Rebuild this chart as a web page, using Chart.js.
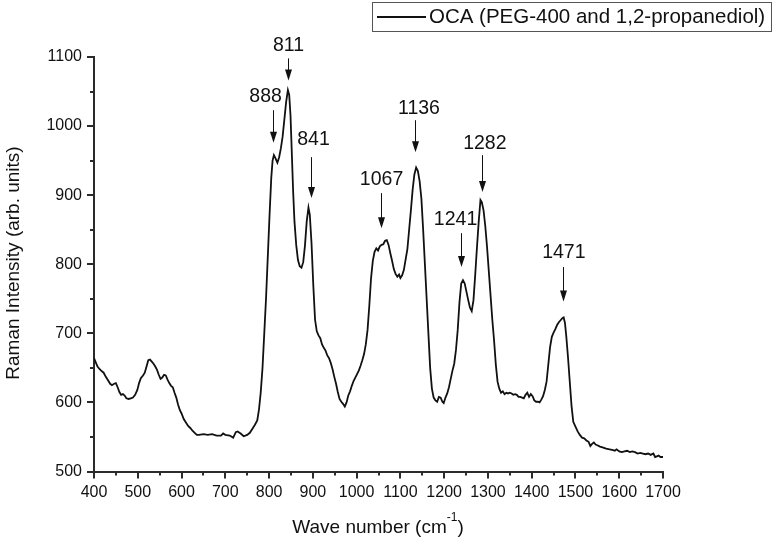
<!DOCTYPE html>
<html>
<head>
<meta charset="utf-8">
<script src="https://cdn.jsdelivr.net/npm/chart.js@4.4.1/dist/chart.umd.min.js"></script>
<style>
  html, body { margin: 0; padding: 0; background: #ffffff; }
  #wrap { width: 778px; height: 542px; position: relative; }
</style>
</head>
<body>
<div id="wrap"><canvas id="c" width="778" height="542"></canvas></div>
<script>
// ---- Data ----
const seriesLabel = 'OCA (PEG-400 and 1,2-propanediol)';
const wavenumbers = [
  400,404,408,413,418,422,427,432,437,441,446,450,454,458,462,466,470,474,479,484,489,494,499,
  503,507,512,516,520,524,528,532,536,540,544,548,552,556,560,564,568,572,576,580,584,588,592,596,
  600,605,610,615,620,625,630,635,640,650,660,670,680,690,695,700,710,718,724,728,735,742,750,756,
  762,768,773,777,781,785,789,793,797,801,805,808,811,815,819,823,827,831,835,839,843,846,849,852,
  855,858,862,866,870,874,878,882,886,890,893,897,901,905,909,913,917,921,925,929,933,937,941,945,
  949,953,957,961,965,969,973,977,981,985,989,993,997,1001,1005,1009,1013,1017,1021,1025,1029,1033,
  1037,1041,1045,1049,1053,1057,1061,1065,1069,1073,1077,1081,1085,1089,1093,1097,1100,1104,1108,
  1112,1116,1120,1124,1128,1132,1136,1140,1144,1148,1152,1156,1160,1164,1168,1172,1176,1180,1184,
  1188,1192,1196,1199,1203,1207,1211,1215,1219,1223,1227,1231,1235,1239,1243,1247,1251,1255,1259,
  1263,1267,1271,1275,1279,1283,1286,1290,1294,1298,1302,1306,1310,1314,1318,1322,1326,1330,1334,
  1338,1342,1346,1350,1354,1358,1362,1366,1370,1374,1378,1382,1386,1390,1394,1398,1402,1406,1410,
  1414,1418,1422,1426,1430,1434,1438,1442,1446,1450,1454,1458,1462,1466,1470,1473,1476,1479,1483,
  1487,1491,1495,1500,1505,1510,1515,1520,1525,1530,1534,1538,1542,1546,1550,1556,1562,1570,1578,
  1586,1590,1594,1600,1606,1612,1618,1624,1630,1636,1642,1648,1654,1660,1666,1672,1678,1682,1686,
  1690,1694,1700
];
const intensity = [
  664,658,652,648,645,643,637,632,627,625,627,628,622,615,611,612,610,606,605,606,607,611,618,
  628,635,639,643,652,661,662,659,656,652,647,640,634,636,640,639,633,628,624,622,614,607,597,589,
  584,576,571,566,563,559,556,553,553,554,553,554,552,552,555,553,552,549,557,558,555,551,553,556,
  562,568,574,590,615,650,700,750,810,870,925,950,958,953,947,955,968,985,1010,1035,1052,1045,1015,960,
  905,862,828,806,797,795,803,827,862,882,872,830,770,720,703,697,693,684,679,675,668,664,657,648,
  637,627,615,605,601,598,594,600,610,616,624,631,636,641,646,653,661,670,684,705,740,780,
  805,818,823,820,826,828,829,834,835,828,816,805,793,786,782,785,780,784,792,
  807,822,850,878,908,930,940,935,920,895,850,800,750,700,650,620,607,603,601,
  608,607,601,599,607,613,622,634,646,656,676,705,745,772,777,772,760,748,737,
  732,748,785,825,862,893,890,878,855,825,790,755,720,690,655,630,620,614,616,
  612,614,613,614,613,611,612,611,608,608,607,606,611,614,608,612,609,603,601,
  601,600,604,609,618,630,655,680,695,701,706,712,716,719,722,723,715,696,665,
  630,595,572,565,558,553,549,548,545,543,537,540,542,539,538,536,535,533,532,
  531,530,532,529,528,529,530,528,529,528,526,527,526,525,526,524,526,521,522,
  523,521,521
];
const xTicks = [400,500,600,700,800,900,1000,1100,1200,1300,1400,1500,1600,1700];
const yTicks = [500,600,700,800,900,1000,1100];

// Peak annotations (label text, arrow x, arrow top, arrow tip, label centre)
const peakLabels   = ['811','888','841','1067','1136','1241','1282','1471'];
const peakArrowX   = [842.4, 809.6, 894.7, 1054.6, 1134.5, 1239.5, 1286.8, 1471.7];
const peakArrowTop = [1098, 1023, 955, 903, 1008.5, 845, 958, 796];
const peakArrowTip = [1066, 976, 896, 852, 962, 796, 904.5, 746];
const peakLabelX   = [844.5, 792, 901.6, 1057, 1142.5, 1226, 1293, 1473.5];
const peakLabelY   = [1117, 1043, 981, 922, 1025, 865, 974, 817];

const FONT = "'Liberation Sans', Arial, Helvetica, sans-serif";
const AXIS_COLOR = '#2b2b2b';

const overlay = {
  id: 'overlay',
  afterDraw(chart) {
    const { ctx, scales: { x, y }, chartArea: ca } = chart;
    ctx.save();
    // minor ticks
    ctx.strokeStyle = AXIS_COLOR;
    ctx.lineWidth = 2;
    ctx.beginPath();
    for (let v = 450; v < 1700; v += 100) {
      const px = Math.round(x.getPixelForValue(v));
      ctx.moveTo(px, ca.bottom);
      ctx.lineTo(px, ca.bottom + 4);
    }
    for (let v = 550; v < 1100; v += 100) {
      const py = Math.round(y.getPixelForValue(v));
      ctx.moveTo(ca.left, py);
      ctx.lineTo(ca.left - 4, py);
    }
    ctx.stroke();

    // peak annotations
    ctx.fillStyle = '#111';
    ctx.strokeStyle = '#111';
    ctx.font = "19.5px " + FONT;
    ctx.textAlign = 'center';
    ctx.textBaseline = 'middle';
    peakLabels.forEach((lab, i) => {
      ctx.fillText(lab, x.getPixelForValue(peakLabelX[i]), y.getPixelForValue(peakLabelY[i]));
      const ax = Math.round(x.getPixelForValue(peakArrowX[i])) + 0.5;
      const at = y.getPixelForValue(peakArrowTop[i]);
      const tip = y.getPixelForValue(peakArrowTip[i]);
      const headLen = 11, headW = 3.5;
      ctx.lineWidth = 1;
      ctx.beginPath();
      ctx.moveTo(ax, at);
      ctx.lineTo(ax, tip - headLen + 1);
      ctx.stroke();
      ctx.beginPath();
      ctx.moveTo(ax - headW, tip - headLen);
      ctx.lineTo(ax + headW, tip - headLen);
      ctx.lineTo(ax, tip);
      ctx.closePath();
      ctx.fill();
    });

    // legend box
    ctx.strokeStyle = '#555';
    ctx.lineWidth = 1;
    ctx.strokeRect(372.5, 2.5, 399, 29);
    ctx.strokeStyle = '#111';
    ctx.lineWidth = 2;
    ctx.beginPath();
    ctx.moveTo(377, 17);
    ctx.lineTo(426, 17);
    ctx.stroke();
    ctx.fillStyle = '#111';
    ctx.font = "20.5px " + FONT;
    ctx.textAlign = 'left';
    ctx.textBaseline = 'middle';
    ctx.fillText(seriesLabel, 429, 17.5);

    // x axis title with superscript
    ctx.font = "19px " + FONT;
    ctx.textBaseline = 'alphabetic';
    const t1 = 'Wave number (cm';
    const sup = '-1';
    const t2 = ')';
    const w1 = ctx.measureText(t1).width;
    const w3 = ctx.measureText(t2).width;
    ctx.font = "12px " + FONT;
    const w2 = ctx.measureText(sup).width;
    const total = w1 + w2 + w3;
    let sx = 378 - total / 2;
    ctx.font = "19px " + FONT;
    ctx.textAlign = 'left';
    ctx.fillText(t1, sx, 533);
    ctx.font = "12px " + FONT;
    ctx.fillText(sup, sx + w1, 521);
    ctx.font = "19px " + FONT;
    ctx.fillText(t2, sx + w1 + w2, 533);

    // y axis title
    ctx.save();
    ctx.translate(14, 263);
    ctx.rotate(-Math.PI / 2);
    ctx.textAlign = 'center';
    ctx.textBaseline = 'middle';
    ctx.fillText('Raman Intensity (arb. units)', 0, 0);
    ctx.restore();

    ctx.restore();
  }
};

const points = wavenumbers.map((w, i) => ({ x: w, y: intensity[i] }));

new Chart(document.getElementById('c'), {
  type: 'line',
  data: {
    datasets: [{
      label: seriesLabel,
      data: points,
      borderColor: '#111',
      borderWidth: 1.8,
      pointRadius: 0,
      tension: 0,
      fill: false
    }]
  },
  options: {
    responsive: false,
    animation: false,
    devicePixelRatio: 1,
    layout: { padding: { top: 57, right: 115, left: 0, bottom: 0 } },
    plugins: { legend: { display: false }, tooltip: { enabled: false } },
    scales: {
      x: {
        type: 'linear',
        min: 400, max: 1700,
        afterFit: s => { s.height = 70.5; },
        afterBuildTicks: s => { s.ticks = xTicks.map(v => ({ value: v })); },
        border: { display: true, color: AXIS_COLOR, width: 2 },
        grid: { drawOnChartArea: false, drawTicks: true, tickLength: 7, color: AXIS_COLOR, lineWidth: 2 },
        ticks: { color: '#111', font: { family: FONT, size: 16 }, padding: 4, maxRotation: 0, autoSkip: false,
                 callback: v => String(v) }
      },
      y: {
        min: 500, max: 1100,
        afterFit: s => { s.width = 94; },
        afterBuildTicks: s => { s.ticks = yTicks.map(v => ({ value: v })); },
        border: { display: true, color: AXIS_COLOR, width: 2 },
        grid: { drawOnChartArea: false, drawTicks: true, tickLength: 7, color: AXIS_COLOR, lineWidth: 2 },
        ticks: { color: '#111', font: { family: FONT, size: 16 }, padding: 5,
                 callback: v => String(v) }
      }
    }
  },
  plugins: [overlay]
});
</script>
</body>
</html>
